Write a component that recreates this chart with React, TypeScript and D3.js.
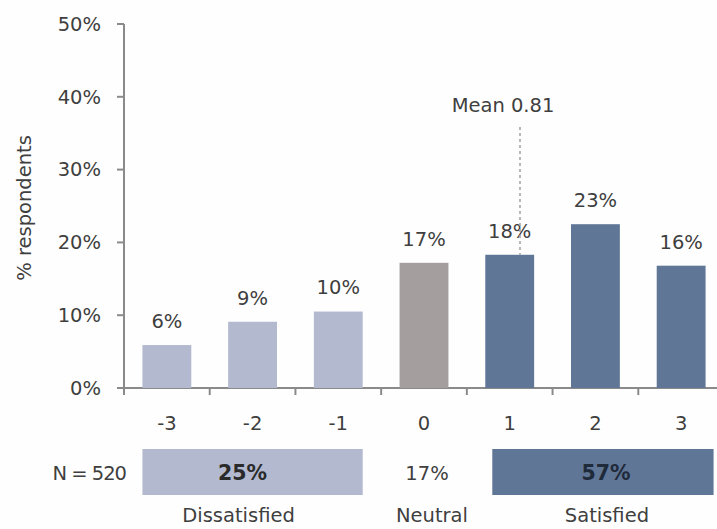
import React from "react";
import * as d3 from "d3";

const categories = ["-3", "-2", "-1", "0", "1", "2", "3"];
const values = [5.9, 9.1, 10.5, 17.2, 18.3, 22.5, 16.8];
const valueLabels = ["6%", "9%", "10%", "17%", "18%", "23%", "16%"];
const groupOf = ["dis", "dis", "dis", "neu", "sat", "sat", "sat"];
const yTicks = [0, 10, 20, 30, 40, 50];
const meanLabel = "Mean 0.81";
const meanLinePos = 1.12; // visual position of the mean line in category units
const summaryN = "N = 520";
const dissatisfiedPct = "25%";
const neutralPct = "17%";
const satisfiedPct = "57%";

const W = 717;
const H = 529;
const colors: Record<string, string> = { dis: "#b3bad0", neu: "#a59e9e", sat: "#5f7697" };
const textColor = "#3f3f3f";
const axisColor = "#8a8a8a";
const font = "'DejaVu Sans', 'Open Sans', sans-serif";

export default function App() {
  const x = d3.scaleBand<string>().domain(categories).range([124, 724]).paddingInner(0.43).paddingOuter(0.215);
  const y = d3.scaleLinear().domain([0, 50]).range([388, 24]);
  const bw = x.bandwidth();
  const step = x.step();
  const catCenter = d3.scaleLinear().domain([0, 6]).range([x("-3")! + bw / 2, x("3")! + bw / 2]);
  const meanX = catCenter(meanLinePos + 3);
  const boundaries = d3.range(0, 8).map((i) => 124 + i * step);

  const disX0 = x("-3")!;
  const disX1 = x("-1")! + bw;
  const satX0 = x("1")! + 7;
  const satX1 = x("3")! + bw + 8;
  const boxY0 = 449;
  const boxY1 = 495;
  const fs = 19.5;

  return (
    <svg width={W} height={H} style={{ position: "absolute", left: 0, top: 0, background: "#fefefe" }} fontFamily={font}>
      <rect x={0} y={0} width={W} height={H} fill="#fefefe" />
      {/* y axis */}
      <line x1={124} x2={124} y1={y(50)} y2={y(0)} stroke={axisColor} strokeWidth={2} />
      {yTicks.map((t) => (
        <g key={t}>
          <line x1={117} x2={124} y1={y(t)} y2={y(t)} stroke={axisColor} strokeWidth={2} />
          <text x={101} y={y(t)} dy="0.35em" textAnchor="end" fontSize={fs} fill={textColor}>
            {t}%
          </text>
        </g>
      ))}
      <text transform={`translate(24,208) rotate(-90)`} textAnchor="middle" dy="0.35em" fontSize={fs} fill={textColor}>
        % respondents
      </text>
      {/* x axis */}
      <line x1={124} x2={717} y1={y(0)} y2={y(0)} stroke={axisColor} strokeWidth={2} />
      {boundaries.map((b, i) => (
        <line key={i} x1={b} x2={b} y1={y(0)} y2={y(0) + 7} stroke={axisColor} strokeWidth={2} />
      ))}
      {/* bars */}
      {categories.map((c, i) => (
        <g key={c}>
          <rect x={x(c)} y={y(values[i])} width={bw} height={y(0) - y(values[i])} fill={colors[groupOf[i]]} />
          <text x={x(c)! + bw / 2} y={y(values[i]) - 24} dy="0.35em" textAnchor="middle" fontSize={fs} fill={textColor}>
            {valueLabels[i]}
          </text>
          <text x={x(c)! + bw / 2} y={423} dy="0.35em" textAnchor="middle" fontSize={fs} fill={textColor}>
            {c}
          </text>
        </g>
      ))}
      {/* mean line */}
      <line x1={meanX} x2={meanX} y1={127} y2={y(values[4])} stroke="#a0a0a0" strokeWidth={1.5} strokeDasharray="3,3" />
      <text x={meanX - 17} y={105} dy="0.35em" textAnchor="middle" fontSize={fs} fill={textColor}>
        {meanLabel}
      </text>
      {/* summary */}
      <text x={126} y={473} dy="0.35em" textAnchor="end" fontSize={fs} fill={textColor} letterSpacing={-1}>
        {summaryN}
      </text>
      <rect x={disX0} y={boxY0} width={disX1 - disX0} height={boxY1 - boxY0} fill={colors.dis} />
      <text x={(disX0 + disX1) / 2 - 10} y={473} dy="0.35em" textAnchor="middle" fontSize={fs + 1} fontWeight="bold" fill="#2a2a2a">
        {dissatisfiedPct}
      </text>
      <text x={x("0")! + bw / 2 + 3} y={473} dy="0.35em" textAnchor="middle" fontSize={fs} fill={textColor}>
        {neutralPct}
      </text>
      <rect x={satX0} y={boxY0} width={satX1 - satX0} height={boxY1 - boxY0} fill={colors.sat} />
      <text x={(satX0 + satX1) / 2 + 3} y={473} dy="0.35em" textAnchor="middle" fontSize={fs + 1} fontWeight="bold" fill="#1f2a3a">
        {satisfiedPct}
      </text>
      <text x={(disX0 + disX1) / 2 - 14} y={515} dy="0.35em" textAnchor="middle" fontSize={fs} fill={textColor}>
        Dissatisfied
      </text>
      <text x={x("0")! + bw / 2 + 8} y={515} dy="0.35em" textAnchor="middle" fontSize={fs} fill={textColor}>
        Neutral
      </text>
      <text x={(satX0 + satX1) / 2 + 4} y={515} dy="0.35em" textAnchor="middle" fontSize={fs} fill={textColor}>
        Satisfied
      </text>
    </svg>
  );
}
